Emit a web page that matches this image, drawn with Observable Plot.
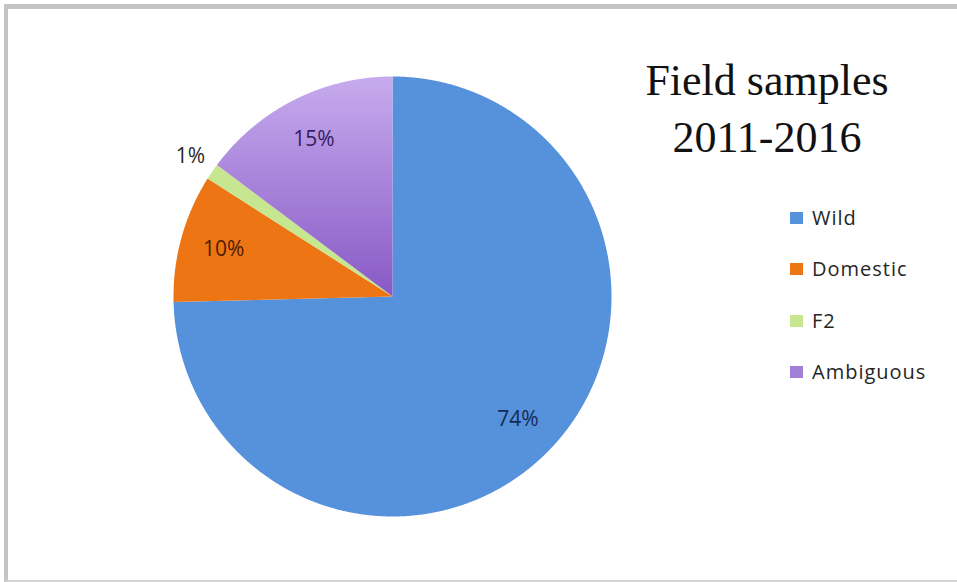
<!DOCTYPE html>
<html>
<head>
<meta charset="utf-8">
<script src="https://cdn.jsdelivr.net/npm/d3@7"></script>
<script src="https://cdn.jsdelivr.net/npm/@observablehq/plot@0.6"></script>
<style>
  html, body { margin: 0; padding: 0; background: #fff; width: 957px; height: 582px; overflow: hidden; }
  #wrap { position: relative; width: 957px; height: 582px; overflow: hidden; }
  #frame { position: absolute; left: 4px; top: 4px; width: 1000px; height: 571px;
    border-left: 4px solid #c4c4c4; border-top: 5px solid #c4c4c4; border-bottom: 2px solid #d4d4d4; }
  #chart { position: absolute; left: 0; top: 0; }
  #title { position: absolute; left: 617px; top: 52px; width: 300px; text-align: center;
    font-family: "Liberation Serif", serif; font-size: 44px; line-height: 57px; color: #111; }
  #legend { position: absolute; left: 790px; top: 206px; font-family: "Open Sans", sans-serif;
    font-size: 20px; letter-spacing: 1px; color: #262626; font-weight: 500; }
  .item { position: relative; height: 24px; line-height: 24px; margin-bottom: 27.33px; white-space: nowrap; }
  .sw { position: absolute; left: 0; top: 6px; width: 13px; height: 12px; }
  .lab { position: absolute; left: 22px; top: 0; }
</style>
</head>
<body>
<div id="wrap">
  <div id="frame"></div>
  <div id="chart"></div>
  <div id="title">Field samples<br>2011-2016</div>
  <div id="legend"></div>
</div>
<script>
// ---- data ----
const categories = ["Wild", "Domestic", "F2", "Ambiguous"];
const shares = [74.6, 9.4, 1.2, 14.8];          // percent of field samples
const labels = ["74%", "10%", "1%", "15%"];      // printed data labels

// ---- styles ----
const sliceFill = ["#5691DB", "#EE7514", "#C6E68F", "url(#ambGrad)"];
const swatchFill = ["#5691DB", "#EE7514", "#C6E68F", "#A27FD6"];
const labelInk = ["#142c55", "#4f2000", "#2a2a2a", "#321d5e"];

const rows = categories.map((c, i) => ({category: c, share: shares[i], label: labels[i]}));
const arcs = d3.pie().sort(null).value(d => d.share)(rows);

const outline = arcs.flatMap(a => {
  const n = Math.max(2, Math.ceil((a.endAngle - a.startAngle) / 0.004));
  const pts = [{category: a.data.category, x: 0, y: 0}];
  for (let k = 0; k <= n; k++) {
    const t = a.startAngle + (a.endAngle - a.startAngle) * k / n;
    pts.push({category: a.data.category, x: Math.sin(t), y: Math.cos(t)});
  }
  pts.push({category: a.data.category, x: 0, y: 0});
  return pts;
});

const labelPts = arcs.map((a, i) => {
  const m = (a.startAngle + a.endAngle) / 2;
  const r = a.data.share < 3 ? 1.12 : 0.8;
  return {label: a.data.label, x: r * Math.sin(m), y: r * Math.cos(m), ink: labelInk[i]};
});

const plot = Plot.plot({
  width: 957, height: 582, margin: 0,
  x: {domain: [-1, 1], range: [173, 611], axis: null},
  y: {domain: [-1, 1], range: [516, 76], axis: null},
  color: {type: "ordinal", domain: categories, range: sliceFill},
  style: {background: "transparent", overflow: "visible"},
  marks: [
    Plot.line(outline, {x: "x", y: "y", z: "category", fill: "category", stroke: "none", curve: "linear"}),
    Plot.text(labelPts, {x: "x", y: "y", text: "label", fill: "ink", fontSize: 21, fontWeight: 500,
      fontFamily: "Open Sans", letterSpacing: "1px"})
  ]
});

const defs = d3.select(plot).insert("defs", ":first-child");
const g = defs.append("linearGradient").attr("id", "ambGrad")
  .attr("x1", 0).attr("y1", 0).attr("x2", 0).attr("y2", 1);
g.append("stop").attr("offset", "0%").attr("stop-color", "#C7ABEE");
g.append("stop").attr("offset", "100%").attr("stop-color", "#8859C5");

document.getElementById("chart").appendChild(plot);

const legend = document.getElementById("legend");
categories.forEach((c, i) => {
  const item = document.createElement("div");
  item.className = "item";
  item.innerHTML = `<span class="sw" style="background:${swatchFill[i]}"></span><span class="lab">${c}</span>`;
  legend.appendChild(item);
});
</script>
</body>
</html>
